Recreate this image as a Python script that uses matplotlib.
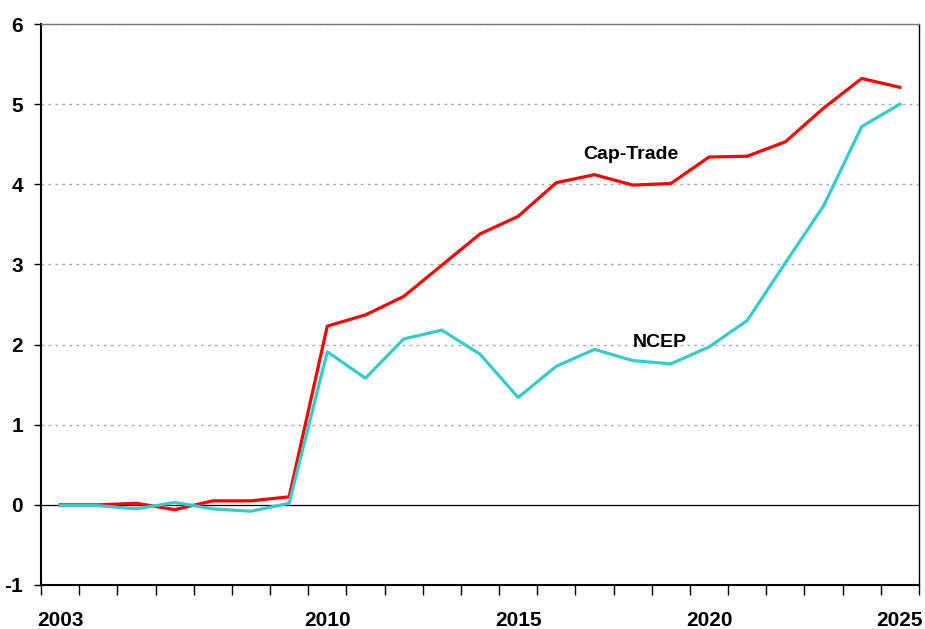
import matplotlib.pyplot as plt
import numpy as np

plt.rcParams['font.family'] = ['Liberation Sans', 'DejaVu Sans']
plt.rcParams['font.weight'] = 'bold'
plt.rcParams['axes.unicode_minus'] = False

years = list(range(2003, 2026))
cap_trade = [0.0, 0.0, 0.02, -0.06, 0.05, 0.05, 0.10, 2.23, 2.37, 2.60, 2.99, 3.38,
             3.60, 4.02, 4.12, 3.99, 4.01, 4.34, 4.35, 4.53, 4.95, 5.32, 5.21]
ncep = [-0.01, -0.01, -0.05, 0.03, -0.05, -0.08, 0.02, 1.91, 1.58, 2.07, 2.18, 1.88,
        1.34, 1.73, 1.94, 1.80, 1.76, 1.97, 2.30, 3.02, 3.73, 4.72, 5.00]
label_years = [2003, 2010, 2015, 2020, 2025]

fig = plt.figure(figsize=(9.25, 6.29), dpi=100)
ax = fig.add_axes([41/925, 1-585/629, (919-41)/925, (585-24)/629])

x = np.arange(len(years))
ax.plot(x, cap_trade, color='#FF0000', lw=2.3, zorder=3)
ax.plot(x, ncep, color='#33CCCC', lw=2.3, zorder=3)

ax.set_xlim(-0.5, len(years) - 0.5)
ax.set_ylim(-1, 6)

# gridlines
for v in range(1, 7):
    ax.axhline(v, color='#AAAAAA', lw=1, ls=(0, (2, 3)), zorder=1)
ax.axhline(0, color='black', lw=0.9, zorder=2)

ax.set_yticks(range(-1, 7))
ax.tick_params(axis='y', direction='out', length=5, width=1, labelsize=15, pad=8)

ax.set_xticks(np.arange(-0.5, len(years), 1.0))
ax.set_xticklabels([])
ax.tick_params(axis='x', which='major', direction='out', length=7, width=1)
ax.set_xticks([years.index(y) for y in label_years], minor=True)
ax.set_xticklabels([str(y) for y in label_years], minor=True)
ax.tick_params(axis='x', which='minor', length=0, labelsize=15, pad=19)

for s in ['left', 'bottom', 'right']:
    ax.spines[s].set_color('black')
ax.spines['left'].set_linewidth(1.5)
ax.spines['bottom'].set_linewidth(1.5)
ax.spines['right'].set_linewidth(1)
ax.spines['top'].set_color('#777777')
ax.spines['top'].set_linewidth(1)

ax.text(14.96, 4.37, 'Cap-Trade', fontsize=14, fontweight='bold', ha='center', va='center')
ax.text(15.72, 2.03, 'NCEP', fontsize=14, fontweight='bold', ha='center', va='center')

fig.savefig('out.png', dpi=100)
